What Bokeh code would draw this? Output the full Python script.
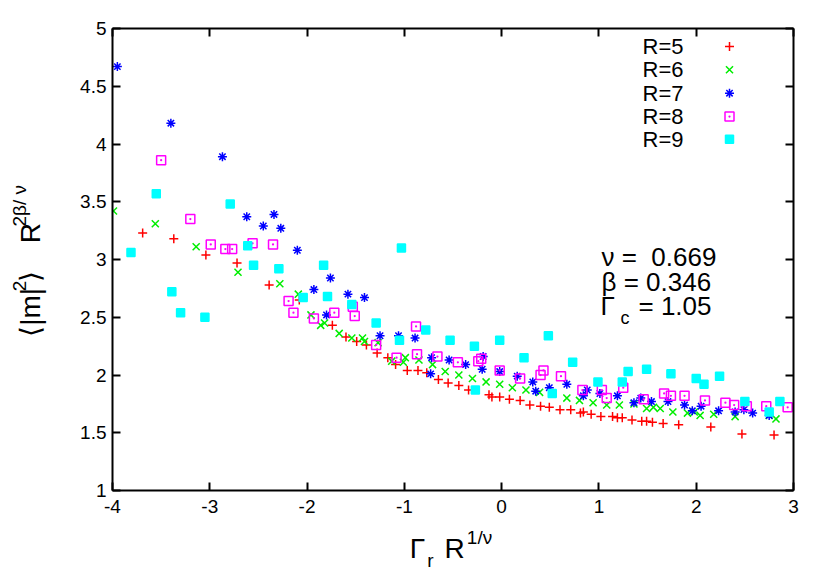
from bokeh.plotting import figure
from bokeh.models import Range1d, LinearAxis, FixedTicker, Label
from bokeh.layouts import row, column
from bokeh.embed import file_html
from bokeh.resources import INLINE

FONT = "Liberation Sans"

# ---------------- data ----------------
series_names = ["R=5", "R=6", "R=7", "R=8", "R=9"]

r5_x = [-3.69, -3.37, -3.04, -2.72, -2.39, -2.08, -1.74, -1.60, -1.49, -1.39, -1.28, -1.17, -1.09,
        -0.97, -0.86, -0.77, -0.65, -0.55, -0.44, -0.34, -0.13, -0.10, -0.02, 0.08, 0.19, 0.29,
        0.40, 0.49, 0.60, 0.71, 0.81, 0.84, 0.92, 1.02, 1.14, 1.19, 1.24, 1.34, 1.44, 1.49, 1.55,
        1.66, 1.82, 2.15, 2.47, 2.80]
r5_y = [3.23, 3.18, 3.04, 2.97, 2.78, 2.65, 2.43, 2.33, 2.29, 2.26, 2.19, 2.15, 2.09,
        2.04, 2.04, 2.02, 1.96, 1.93, 1.91, 1.87, 1.83, 1.81, 1.81, 1.79, 1.78, 1.74,
        1.73, 1.72, 1.70, 1.70, 1.67, 1.68, 1.66, 1.64, 1.64, 1.63, 1.63, 1.61, 1.60, 1.60, 1.59,
        1.58, 1.57, 1.55, 1.49, 1.48]

r6_x = [-3.99, -3.56, -3.14, -2.71, -2.28, -2.09, -1.96, -1.86, -1.82, -1.67, -1.54, -1.43, -1.41,
        -1.27, -1.13, -1.01, -0.99, -0.85, -0.71, -0.58, -0.44, -0.30, -0.16, -0.02, 0.11, 0.25,
        0.39, 0.67, 0.80, 0.94, 1.08, 1.21, 1.36, 1.49, 1.56, 1.63, 1.76, 1.91, 1.98, 2.04, 2.18,
        2.40, 2.75, 2.82]
r6_y = [3.42, 3.31, 3.11, 2.89, 2.79, 2.70, 2.52, 2.43, 2.45, 2.36, 2.32, 2.32, 2.29,
        2.28, 2.12, 2.11, 2.15, 2.13, 2.09, 2.03, 2.00, 1.97, 1.94, 1.92, 1.89, 1.87,
        1.85, 1.80, 1.78, 1.76, 1.74, 1.74, 1.75, 1.71, 1.72, 1.71, 1.68, 1.67, 1.68, 1.65, 1.66,
        1.64, 1.65, 1.62]

r7_x = [-3.95, -3.40, -2.87, -2.62, -2.45, -2.34, -2.27, -2.10, -1.93, -1.80, -1.76, -1.58, -1.41,
        -1.25, -1.06, -0.89, -0.73, -0.72, -0.54, -0.37, -0.20, -0.19, -0.02, 0.16, 0.32, 0.35,
        0.49, 0.67, 0.84, 0.88, 1.01, 1.19, 1.36, 1.43, 1.54, 1.71, 1.88, 1.96, 2.05, 2.23, 2.40,
        2.49, 2.58, 2.75]
r7_y = [4.67, 4.18, 3.89, 3.37, 3.29, 3.39, 3.27, 3.08, 2.74, 2.52, 2.84, 2.70, 2.67,
        2.34, 2.34, 2.32, 2.01, 2.15, 2.13, 2.09, 2.05, 2.16, 2.03, 1.99, 1.94, 1.86,
        1.89, 1.92, 1.82, 1.87, 1.84, 1.82, 1.76, 1.80, 1.77, 1.77, 1.74, 1.69, 1.73, 1.69, 1.68,
        1.70, 1.67, 1.65]

r8_x = [-3.50, -3.20, -2.99, -2.84, -2.77, -2.56, -2.35, -2.19, -2.14, -1.93, -1.72, -1.53, -1.51,
        -1.29, -1.08, -0.88, -0.87, -0.66, -0.45, -0.24, -0.21, -0.02, 0.19, 0.40, 0.43, 0.61,
        0.83, 1.03, 1.08, 1.25, 1.46, 1.67, 1.74, 1.88, 2.09, 2.30, 2.39, 2.52, 2.72, 2.94]
r8_y = [3.86, 3.35, 3.13, 3.09, 3.09, 3.14, 3.13, 2.64, 2.54, 2.49, 2.54, 2.59, 2.51,
        2.26, 2.15, 2.42, 2.18, 2.16, 2.11, 2.12, 2.14, 2.04, 1.97, 2.00, 2.04, 1.99,
        1.87, 1.87, 1.80, 1.89, 1.79, 1.84, 1.82, 1.82, 1.78, 1.76, 1.74, 1.73, 1.73, 1.72]

r9_x = [-3.81, -3.55, -3.39, -3.30, -3.05, -2.79, -2.61, -2.55, -2.29, -2.04, -1.83, -1.79, -1.54,
        -1.29, -1.05, -1.03, -0.78, -0.53, -0.28, -0.27, -0.02, 0.23, 0.48, 0.52, 0.73, 0.99,
        1.24, 1.30, 1.49, 1.74, 2.00, 2.08, 2.24, 2.50, 2.75, 2.86]
r9_y = [3.06, 3.57, 2.72, 2.54, 2.50, 3.48, 3.12, 2.95, 2.92, 2.67, 2.95, 2.68, 2.61,
        2.45, 2.30, 3.10, 2.39, 2.30, 2.25, 1.87, 2.30, 2.15, 2.34, 1.84, 2.11, 1.94,
        1.94, 2.03, 2.05, 2.01, 1.97, 1.92, 1.99, 1.77, 1.68, 1.77]

x_ticks = [-4, -3, -2, -1, 0, 1, 2, 3]
x_tick_labels = ["-4", "-3", "-2", "-1", "0", "1", "2", "3"]
y_ticks = [1.0, 1.5, 2.0, 2.5, 3.0, 3.5, 4.0, 4.5, 5.0]
y_tick_labels = ["1", "1.5", "2", "2.5", "3", "3.5", "4", "4.5", "5"]

fit_lines = ["\u03bd = \u00a00.669", "\u03b2 = 0.346"]
gamma_c_value = "= 1.05"

# ---------------- styles ----------------
styles = [
    dict(marker="cross", color="#ff0000", fill=None, size=9),
    dict(marker="x", color="#00ee00", fill=None, size=10),
    dict(marker="asterisk", color="#0000ff", fill=None, size=9),
    dict(marker="square_dot", color="#ff00ff", fill=None, size=9),
    dict(marker="square", color="#00ffff", fill="#00ffff", size=8),
]
xs_all = [r5_x, r6_x, r7_x, r8_x, r9_x]
ys_all = [r5_y, r6_y, r7_y, r8_y, r9_y]

# ---------------- layout geometry (page px) ----------------
YLAB_W = 60                         # strip holding the rotated y title
FL, FT, FW, FH = 112, 28, 681, 462  # frame position on page
RB, BB = 22, 34                     # right / bottom borders of the main figure
MAIN_H = FT + FH + BB
XLAB_H = 48
TOTAL_W = FL + FW + RB
X0, X1, Y0, Y1 = -4, 3, 1, 5


def dx(px):
    return X0 + (px - FL) * (X1 - X0) / FW


def dy(py):
    return Y1 - (py - FT) * (Y1 - Y0) / FH


p = figure(output_backend="svg", toolbar_location=None,
           frame_width=FW, frame_height=FH,
           x_range=Range1d(X0, X1), y_range=Range1d(Y0, Y1),
           min_border_left=FL - YLAB_W, min_border_top=FT,
           min_border_right=RB, min_border_bottom=BB)
p.background_fill_color = "white"
p.border_fill_color = "white"
p.outline_line_color = "black"
p.outline_line_width = 1
p.xgrid.visible = False
p.ygrid.visible = False

bottom_ax = p.below[0]
left_ax = p.left[0]
top_ax = LinearAxis()
right_ax = LinearAxis()
p.add_layout(top_ax, "above")
p.add_layout(right_ax, "right")

for ax in [bottom_ax, top_ax]:
    ax.ticker = FixedTicker(ticks=x_ticks)
for ax in [left_ax, right_ax]:
    ax.ticker = FixedTicker(ticks=y_ticks)

for ax in [bottom_ax, left_ax, top_ax, right_ax]:
    ax.axis_line_width = 2
    ax.axis_line_color = "black"
    ax.major_tick_line_width = 2
    ax.major_tick_line_color = "black"
    ax.major_tick_in = 8
    ax.major_tick_out = 0
    ax.minor_tick_line_color = None
    ax.major_label_text_font = FONT
    ax.major_label_text_font_size = "19px"
    ax.major_label_text_color = "black"

bottom_ax.major_label_overrides = {t: l for t, l in zip(x_ticks, x_tick_labels)}
left_ax.major_label_overrides = {t: l for t, l in zip(y_ticks, y_tick_labels)}
bottom_ax.major_label_standoff = 9
left_ax.major_label_standoff = 6
top_ax.major_label_overrides = {t: "" for t in x_ticks}
right_ax.major_label_overrides = {t: "" for t in y_ticks}
for ax in [top_ax, right_ax]:
    ax.major_label_standoff = 0
    ax.major_label_text_font_size = "1px"

# ---------------- data marks ----------------
for name, xs, ys, st in zip(series_names, xs_all, ys_all, styles):
    p.scatter(xs, ys, marker=st["marker"], size=st["size"], line_color=st["color"],
              fill_color=st["fill"], line_width=1.5)

# ---------------- legend (gnuplot style: text then sample) ----------------
leg_y = [46, 69.3, 92.7, 116, 138.7]
for name, st, ly in zip(series_names, styles, leg_y):
    p.add_layout(Label(x=dx(683), y=dy(ly), text=name, text_align="right", text_baseline="middle",
                       text_font=FONT, text_font_size="22px", text_color="black"))
    p.scatter([dx(729)], [dy(ly)], marker=st["marker"], size=st["size"], line_color=st["color"],
              fill_color=st["fill"], line_width=1.5)

# ---------------- fit parameters ----------------
for txt, ly in zip(fit_lines, [256, 281]):
    p.add_layout(Label(x=dx(601), y=dy(ly), text=txt, text_align="left", text_baseline="middle",
                       text_font=FONT, text_font_size="26px", text_color="black"))
p.add_layout(Label(x=dx(600), y=dy(305), text="\u0393", text_align="left", text_baseline="middle",
                   text_font=FONT, text_font_size="26px", text_color="black"))
p.add_layout(Label(x=dx(620), y=dy(317), text="c", text_align="left", text_baseline="middle",
                   text_font=FONT, text_font_size="18px", text_color="black"))
p.add_layout(Label(x=dx(638), y=dy(305), text=gamma_c_value, text_align="left", text_baseline="middle",
                   text_font=FONT, text_font_size="26px", text_color="black"))


# ---------------- axis titles (composed, with sub/superscripts) ----------------
def label_fig(w, h, top):
    f = figure(output_backend="svg", toolbar_location=None, width=w, height=h,
               x_range=Range1d(0, w), y_range=Range1d(top + h, top),
               x_axis_type=None, y_axis_type=None, min_border=0)
    f.outline_line_color = None
    f.background_fill_color = "white"
    f.border_fill_color = "white"
    return f


ylab_fig = label_fig(YLAB_W, MAIN_H, 0)
ylab = [("\u27e8|m|", 30, 322, "28px"), ("2", 19, 292, "19px"), ("\u27e9", 30, 281, "28px"),
        ("R", 30, 232, "28px"), ("2\u03b2/ \u03bd", 19, 201, "19px")]
for txt, px, py, fs in ylab:
    ylab_fig.add_layout(Label(x=px, y=py, text=txt, text_align="center", text_baseline="middle",
                              angle=1.5707963, text_font=FONT, text_font_size=fs, text_color="black"))

xlab_fig = label_fig(TOTAL_W, XLAB_H, MAIN_H)
xlab = [("\u0393", 417, 548, "28px"), ("r", 430, 560, "19px"),
        ("R", 454, 548, "28px"), ("1/\u03bd", 479, 537, "19px")]
for txt, px, py, fs in xlab:
    xlab_fig.add_layout(Label(x=px, y=py, text=txt, text_align="center", text_baseline="middle",
                              text_font=FONT, text_font_size=fs, text_color="black"))

layout = column(row(ylab_fig, p), xlab_fig)
open("out.html", "w").write(file_html(layout, INLINE))
